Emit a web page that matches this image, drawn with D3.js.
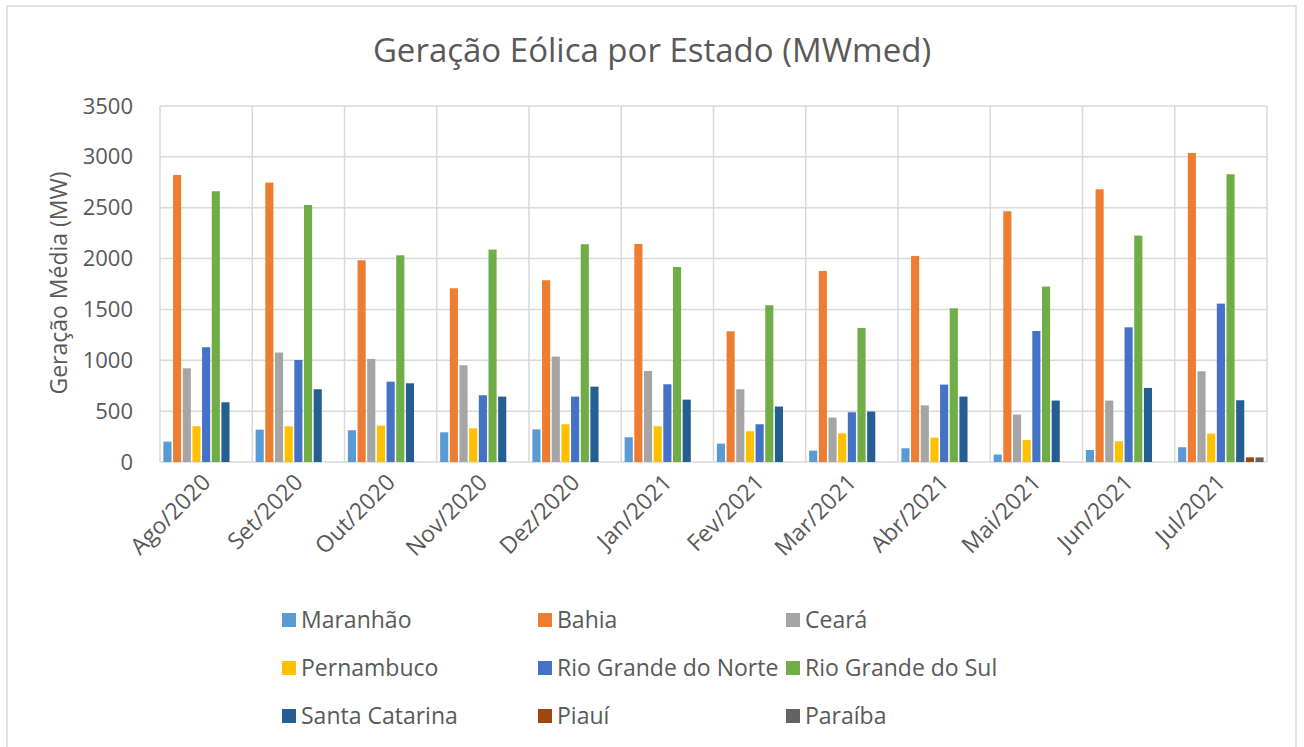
<!DOCTYPE html>
<html>
<head>
<meta charset="utf-8">
<script src="https://cdn.jsdelivr.net/npm/d3@7"></script>
<style>
  body { margin: 0; background: #fff; }
  text { font-family: "Open Sans", "Noto Sans", sans-serif; fill: #595959; }
</style>
</head>
<body>
<svg id="chart"></svg>
<script>
// dados (MWmed)
const months = ['Ago/2020', 'Set/2020', 'Out/2020', 'Nov/2020', 'Dez/2020', 'Jan/2021',
                'Fev/2021', 'Mar/2021', 'Abr/2021', 'Mai/2021', 'Jun/2021', 'Jul/2021'];
const states = ['Maranhão', 'Bahia', 'Ceará', 'Pernambuco', 'Rio Grande do Norte',
                'Rio Grande do Sul', 'Santa Catarina', 'Piauí', 'Paraíba'];
const maranhao   = [200, 318, 312, 292, 321, 243, 181, 112, 135, 73, 118, 145];
const bahia      = [2822, 2747, 1983, 1708, 1787, 2144, 1285, 1878, 2026, 2465, 2681, 3038];
const ceara      = [921, 1076, 1013, 951, 1036, 895, 715, 437, 557, 466, 604, 892];
const pernambuco = [351, 351, 358, 331, 371, 351, 302, 282, 240, 216, 204, 279];
const rgNorte    = [1128, 1003, 790, 656, 643, 764, 371, 489, 761, 1288, 1324, 1557];
const rgSul      = [2662, 2527, 2032, 2088, 2141, 1917, 1541, 1318, 1511, 1725, 2226, 2829];
const santaCat   = [587, 715, 774, 643, 741, 613, 545, 496, 643, 604, 728, 607];
const piaui      = [0, 0, 0, 0, 0, 0, 0, 0, 0, 0, 0, 46];
const paraiba    = [0, 0, 0, 0, 0, 0, 0, 0, 0, 0, 0, 45];
const yTicks = [0, 500, 1000, 1500, 2000, 2500, 3000, 3500];
const colors = ['#5B9BD5', '#ED7D31', '#A5A5A5', '#FFC000', '#4472C4',
                '#70AD47', '#255E91', '#9E480E', '#636363'];

class BarChart {
    constructor (config, data) {
        this.config = {
            parent: config.parent,
            width: config.width || 256,
            height: config.height || 256,
            margin: config.margin || {top:10, right:10, bottom:10, left:10},
            title: config.title || '',
            ylabel: config.ylabel || ''
        };
        this.data = data;
        this.init();
    }

    init() {
        let self = this;

        self.svg = d3.select(self.config.parent)
            .attr('width', self.config.width)
            .attr('height', self.config.height);

        // moldura externa
        self.svg.append('rect')
            .attr('x', 7).attr('y', 6)
            .attr('width', 1289).attr('height', 760)
            .attr('fill', 'none')
            .attr('stroke', '#d9d9d9')
            .attr('stroke-width', 1.5);

        self.chart = self.svg.append('g')
            .attr('transform', `translate(${self.config.margin.left}, ${self.config.margin.top})`);

        self.inner_width = self.config.width - self.config.margin.left - self.config.margin.right;
        self.inner_height = self.config.height - self.config.margin.top - self.config.margin.bottom;

        self.xscale = d3.scaleBand()
            .domain(months)
            .range([0, self.inner_width]);

        self.sscale = d3.scaleBand()
            .domain(states)
            .range([0, self.xscale.bandwidth()])
            .paddingInner(0.16)
            .paddingOuter(0.35);

        self.yscale = d3.scaleLinear()
            .domain([0, 3500])
            .range([self.inner_height, 0]);

        self.color = d3.scaleOrdinal()
            .domain(states)
            .range(colors);

        self.grid_group = self.chart.append('g');
        self.bar_group = self.chart.append('g');
        self.xaxis_group = self.chart.append('g')
            .attr('transform', `translate(0, ${self.inner_height})`);
        self.yaxis_group = self.chart.append('g');

        // título
        self.svg.append('text')
            .attr('x', 652)
            .attr('y', 62)
            .attr('text-anchor', 'middle')
            .style('font-size', '33px')
            .text(self.config.title);

        // rótulo do eixo y
        self.svg.append('text')
            .attr('transform', `translate(67, 283) rotate(-90)`)
            .attr('text-anchor', 'middle')
            .style('font-size', '23px')
            .text(self.config.ylabel);
    }

    update() {
        let self = this;
        self.render();
    }

    render() {
        let self = this;

        // grade horizontal
        self.grid_group.selectAll('.hgrid')
            .data(yTicks)
            .join('line')
            .attr('class', 'hgrid')
            .attr('x1', 0)
            .attr('x2', self.inner_width)
            .attr('y1', d => self.yscale(d))
            .attr('y2', d => self.yscale(d))
            .attr('stroke', '#d9d9d9')
            .attr('stroke-width', 1.5);

        // grade vertical (limites das categorias)
        const bounds = months.map(m => self.xscale(m)).concat([self.inner_width]);
        self.grid_group.selectAll('.vgrid')
            .data(bounds)
            .join('line')
            .attr('class', 'vgrid')
            .attr('x1', d => d)
            .attr('x2', d => d)
            .attr('y1', 0)
            .attr('y2', self.inner_height)
            .attr('stroke', '#d9d9d9')
            .attr('stroke-width', 1.5);

        self.bar_group.selectAll('g')
            .data(self.data)
            .join('g')
            .attr('transform', d => `translate(${self.xscale(d.month)}, 0)`)
            .selectAll('rect')
            .data(d => states.map((s, i) => ({key: s, value: d.values[i]})).filter(v => v.value > 0))
            .join('rect')
            .attr('x', d => self.sscale(d.key))
            .attr('y', d => self.yscale(d.value))
            .attr('width', self.sscale.bandwidth())
            .attr('height', d => self.yscale(0) - self.yscale(d.value))
            .attr('fill', d => self.color(d.key));

        self.yaxis = d3.axisLeft(self.yscale)
            .tickValues(yTicks)
            .tickFormat(d3.format('d'))
            .tickSize(0)
            .tickPadding(27);
        self.yaxis_group.call(self.yaxis);
        self.yaxis_group.select('.domain').remove();
        self.yaxis_group.selectAll('text')
            .style('font-size', '22px')
            .style('font-family', '"Open Sans", sans-serif')
            .attr('fill', '#595959');

        self.xaxis = d3.axisBottom(self.xscale).tickSize(0);
        self.xaxis_group.call(self.xaxis);
        self.xaxis_group.select('.domain').remove();
        self.xaxis_group.selectAll('text')
            .style('font-size', '23px')
            .style('font-family', '"Open Sans", sans-serif')
            .attr('fill', '#595959')
            .attr('text-anchor', 'end')
            .attr('dy', '0.35em')
            .attr('transform', 'translate(-2, 14) rotate(-45)');

        // legenda
        const legendCols = [282, 538, 786];
        const legendRows = [620, 668, 716];
        const legend = self.svg.append('g')
            .selectAll('g')
            .data(states)
            .join('g')
            .attr('transform', (d, i) => `translate(${legendCols[i % 3]}, ${legendRows[Math.floor(i / 3)]})`);
        legend.append('rect')
            .attr('x', 0).attr('y', -7)
            .attr('width', 14).attr('height', 14)
            .attr('fill', d => self.color(d));
        legend.append('text')
            .attr('x', 19)
            .attr('dy', '0.35em')
            .style('font-size', '23px')
            .text(d => d);
    }
}

const data = months.map((m, i) => ({
    month: m,
    values: [maranhao[i], bahia[i], ceara[i], pernambuco[i], rgNorte[i],
             rgSul[i], santaCat[i], piaui[i], paraiba[i]]
}));

const chart = new BarChart({
    parent: '#chart',
    width: 1304,
    height: 747,
    margin: {top: 106, right: 37, bottom: 285, left: 160},
    title: 'Geração Eólica por Estado (MWmed)',
    ylabel: 'Geração Média (MW)'
}, data);
chart.update();
</script>
</body>
</html>
